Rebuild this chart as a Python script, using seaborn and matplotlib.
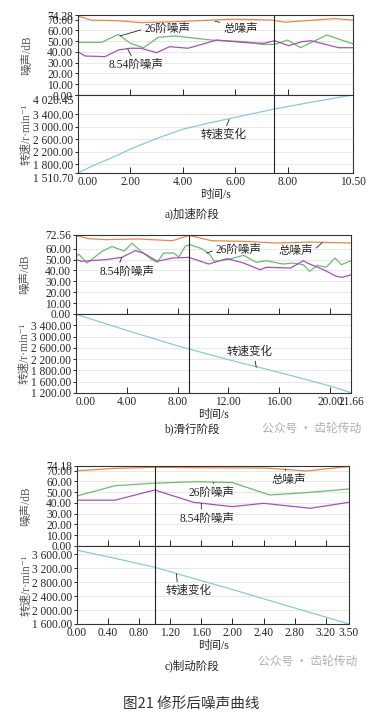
import numpy as np
import pandas as pd
import matplotlib
matplotlib.use('Agg')
import matplotlib.pyplot as plt
import seaborn as sns
from matplotlib.ticker import FixedLocator, FixedFormatter

# ---------------- data ----------------
# a) 加速阶段
total_a_t = [0, 0.5, 1.5, 2.4, 3.7, 5.1, 5.9, 7.4, 7.9, 9.0, 9.8, 10.5]
total_a_v = [73.3, 69.5, 69.0, 67.2, 68.0, 69.6, 70.4, 69.6, 67.6, 69.5, 71.0, 69.5]
g26_a_t = [0, 0.9, 1.54, 2.0, 2.5, 3.07, 3.7, 5.1, 6.4, 7.0, 7.5, 8.0, 8.5, 9.5, 10.5]
g26_a_v = [48.9, 48.9, 56.3, 48.0, 43.9, 53.6, 54.8, 51.0, 49.5, 47.0, 47.0, 51.0, 43.9, 55.7, 47.4]
o854_a_t = [0, 0.27, 1.03, 1.54, 2.0, 2.4, 3.0, 3.5, 4.2, 5.3, 6.4, 7.1, 7.5, 8.05, 8.55, 8.9, 9.95, 10.5]
o854_a_v = [40.2, 36.2, 35.6, 41.8, 43.4, 43.4, 39.3, 44.9, 43.4, 51.0, 48.6, 48.0, 50.4, 45.8, 49.5, 50.4, 43.9, 43.9]
speed_a_t = [0, 0.5, 1, 1.5, 2, 3, 4, 5, 6, 7, 7.5, 8, 9, 10, 10.5]
speed_a_v = [1511, 1720, 1900, 2080, 2280, 2620, 2920, 3120, 3300, 3480, 3570, 3650, 3800, 3950, 4020]

# b) 滑行阶段
total_b_t = [0, 1.0, 2.3, 4.9, 7.6, 8.9, 10.7, 13.2, 15.8, 18.4, 21.66]
total_b_v = [72.0, 69.2, 68.3, 68.9, 67.3, 72.2, 67.3, 66.7, 65.2, 66.1, 65.2]
g26_b_t = [0, 0.2, 0.87, 2.05, 2.83, 3.8, 4.4, 5.06, 5.98, 6.4, 6.9, 7.7, 8.1, 8.6, 9.0, 9.9,
           10.55, 10.9, 11.9, 13.2, 14.2, 15.0, 16.3, 17.1, 17.9, 18.4, 19.0, 19.7, 20.4, 20.9, 21.66]
g26_b_v = [52, 55.1, 46.8, 57.5, 62.0, 57.8, 65.0, 58.2, 49.9, 47.5, 56, 56, 52.3, 62.2, 63.6, 60,
           54.5, 48.4, 49.9, 53.9, 47.5, 48.9, 45.9, 46.8, 45.3, 39.2, 44.7, 42.9, 51.4, 45.3, 48.9]
o854_b_t = [0, 0.47, 2.3, 3.6, 4.67, 5.3, 6.4, 7.6, 8.9, 10.45, 11.9, 13.2, 14.5, 15.0, 16.9,
            17.9, 18.4, 19.5, 20.5, 21.0, 21.66]
o854_b_v = [49.9, 48.4, 49.9, 52, 58.2, 56, 48.4, 51.4, 52, 45.9, 50.8, 46.8, 40.7, 42.9, 42.2,
            48.9, 45.9, 40.7, 34.6, 33.7, 36]
speed_b_t = [0, 4, 8, 12, 16, 20, 21.66]
speed_b_v = [3990, 3420, 2870, 2380, 1930, 1450, 1210]

# c) 制动阶段
total_c_t = [0, 0.5, 1.0, 1.75, 2.4, 2.65, 2.95, 3.5]
total_c_v = [69.8, 72.0, 73.0, 72.5, 72.3, 71.2, 69.5, 73.8]
g26_c_t = [0, 0.49, 0.99, 1.52, 2.0, 2.48, 2.95, 3.5]
g26_c_v = [46.4, 55.9, 58.2, 59.6, 58.8, 47.3, 49.5, 52.9]
o854_c_t = [0, 0.49, 1.0, 1.5, 2.0, 2.4, 3.0, 3.5]
o854_c_v = [42.5, 42.5, 51.9, 40.5, 36.5, 39.6, 35.0, 40.5]
speed_c_t = [0, 0.5, 1.0, 1.5, 2.0, 2.5, 3.0, 3.5]
speed_c_v = [3720, 3480, 3230, 2910, 2590, 2260, 1930, 1600]

# tick labels
xt_a = [0, 2, 4, 6, 8, 10.5]
xt_b = [0, 4, 8, 12, 16, 20, 21.66]
xt_c = [0, 0.4, 0.8, 1.2, 1.6, 2.0, 2.4, 2.8, 3.2, 3.5]
ny_a = [0, 10, 20, 30, 40, 50, 60, 70, 74.28]
ny_b = [0, 10, 20, 30, 40, 50, 60, 72.56]
ny_c = [0, 10, 20, 30, 40, 50, 60, 70, 74.18]
sy_a = [1510.70, 1800, 2200, 2600, 3000, 3400, 4020.45]
sy_a_lab = ['1 510.70', '1 800.00', '2 200.00', '2 600.00', '3 000.00', '3 400.00', '4 020.45']
sy_b = [1200, 1600, 2000, 2400, 2800, 3200, 3600]
sy_b_lab = ['1 200.00', '1 600.00', '1 800.00', '2 200.00', '2 600.00', '3 000.00', '3 400.00']
sy_c = [1600, 2000, 2400, 2800, 3200, 3600]
sy_c_lab = ['1 600.00', '2 000.00', '2 400.00', '2 800.00', '3 200.00', '3 600.00']

# ---------------- style ----------------
sns.set_style("ticks")
FAM = ['Liberation Serif', 'Noto Sans CJK SC', 'DejaVu Sans']
plt.rcParams['font.family'] = FAM
plt.rcParams['axes.linewidth'] = 0.8
plt.rcParams['axes.edgecolor'] = '#333333'

C_TOT = '#E8874A'
C_26 = '#6CBD6C'
C_854 = '#A94FB8'
C_SPD = '#86CCD8'
FS = 8.3

W, H = 379, 720
fig = plt.figure(figsize=(W / 100, H / 100), dpi=100)


def rect(l, r, top, bot):
    return [l / W, 1 - bot / H, (r - l) / W, (bot - top) / H]


def style_ax(ax, xlim, xt, yt, ylab, ylim):
    ax.set_xlim(*xlim)
    ax.set_ylim(*ylim)
    ax.xaxis.set_major_locator(FixedLocator(xt))
    ax.yaxis.set_major_locator(FixedLocator(yt))
    ax.yaxis.set_major_formatter(FixedFormatter(ylab))
    ax.tick_params(axis='x', direction='in', length=4, width=0.7, labelsize=FS, pad=2)
    ax.tick_params(axis='y', direction='out', length=2.5, width=0.7, labelsize=FS, pad=1)
    ax.grid(axis='y', color='#e4e4e4', lw=0.6)
    ax.set_axisbelow(True)
    for s in ax.spines.values():
        s.set_visible(True)
    ax.set_xlabel('')


def panel(l, r, top, mid, bot, xlim, xt, lines, spd_t, spd_v, ny, sy, sy_lab, sylim,
          vline, notes, caption, cap_y, first_left, shift_ends):
    axn = fig.add_axes(rect(l, r, top, mid))
    axs = fig.add_axes(rect(l, r, mid, bot))
    for tt, vv, c in lines:
        df = pd.DataFrame({'t': tt, 'v': vv})
        sns.lineplot(data=df, x='t', y='v', ax=axn, color=c, lw=0.9, estimator=None)
    dfs = pd.DataFrame({'t': spd_t, 'v': spd_v})
    sns.lineplot(data=dfs, x='t', y='v', ax=axs, color=C_SPD, lw=0.9, estimator=None)

    style_ax(axn, xlim, xt, ny, ['%.2f' % v for v in ny], (0, ny[-1]))
    style_ax(axs, xlim, xt, sy, sy_lab, sylim)
    axn.tick_params(axis='x', labelbottom=False)
    axs.xaxis.set_major_formatter(FixedFormatter(['%.2f' % v for v in xt]))
    if first_left:
        axs.get_xticklabels()[0].set_ha('left')
    if shift_ends:
        axs.get_yticklabels()[0].set_va('top')
        axs.get_yticklabels()[-1].set_va('top')
    axn.set_ylabel('噪声/dB', fontsize=FS, color='#555555')
    axs.set_ylabel('转速/r·min⁻¹', fontsize=FS, color='#555555')
    axs.set_xlabel('时间/s', fontsize=FS, labelpad=1)
    axn.yaxis.set_label_coords(-0.165, 0.5)
    axs.yaxis.set_label_coords(-0.165, 0.5)
    for ax in (axn, axs):
        ax.axvline(vline, color='#222222', lw=0.8)

    for which, txt, xytext, xy, rp in notes:
        ax = axn if which == 'n' else axs
        ax.annotate(txt, xy=xy, xytext=xytext, ha='center', va='center', fontsize=FS,
                    arrowprops=dict(arrowstyle='-', color='#222222', lw=0.6,
                                    shrinkA=0, shrinkB=0, relpos=rp))
    fig.text(0.506, 1 - cap_y / H, caption, ha='center', va='center', fontsize=FS)


panel(78, 353, 15, 95, 173, (0, 10.5), xt_a,
      [(total_a_t, total_a_v, C_TOT), (g26_a_t, g26_a_v, C_26), (o854_a_t, o854_a_v, C_854)],
      speed_a_t, speed_a_v, ny_a, sy_a, sy_a_lab, (1510.70, 4020.45), 7.48,
      [('n', '26阶噪声', (3.4, 61.3), (1.6, 54.8), (0, 0.5)),
       ('n', '总噪声', (6.2, 61.3), (5.23, 68.5), (0, 1)),
       ('n', '8.54阶噪声', (2.2, 27.9), (1.9, 42.7), (0.45, 1)),
       ('s', '转速变化', (5.54, 2737), (5.77, 3230), (0.55, 1))],
      'a)加速阶段', 214, True, True)

panel(76, 351, 235, 314, 393, (0, 21.66), xt_b,
      [(total_b_t, total_b_v, C_TOT), (g26_b_t, g26_b_v, C_26), (o854_b_t, o854_b_v, C_854)],
      speed_b_t, speed_b_v, ny_b, sy_b, sy_b_lab, (1200, 4000), 8.9,
      [('n', '26阶噪声', (12.8, 58.8), (10.3, 56.0), (0, 0.5)),
       ('n', '总噪声', (17.3, 57.9), (19.4, 65.6), (1, 0.5)),
       ('n', '8.54阶噪声', (4.0, 38.8), (3.6, 52.0), (0.35, 1)),
       ('s', '转速变化', (13.7, 2662), (14.2, 2110), (0.6, 0))],
      'b)滑行阶段', 430, True, False)

panel(77, 349, 466, 546, 624, (0, 3.5), xt_c,
      [(total_c_t, total_c_v, C_TOT), (g26_c_t, g26_c_v, C_26), (o854_c_t, o854_c_v, C_854)],
      speed_c_t, speed_c_v, ny_c, sy_c, sy_c_lab, (1600, 3840), 1.0,
      [('n', '总噪声', (2.73, 61.2), (2.68, 71.2), (0.4, 1)),
       ('n', '26阶噪声', (1.73, 49.4), (1.76, 59.0), (0.5, 1)),
       ('n', '8.54阶噪声', (1.67, 25.7), (1.6, 39.6), (0.4, 1)),
       ('s', '转速变化', (1.44, 2550), (1.28, 3040), (0.25, 1))],
      'c)制动阶段', 666, False, False)

# watermarks
fig.text(312 / W, 1 - 428 / H, '公众号 · 齿轮传动', ha='center', va='center',
         fontsize=8.5, color='#b0b0b0', family=['Noto Sans CJK SC', 'DejaVu Sans'])
fig.text(308 / W, 1 - 661 / H, '公众号 · 齿轮传动', ha='center', va='center',
         fontsize=8.5, color='#b0b0b0', family=['Noto Sans CJK SC', 'DejaVu Sans'])

fig.text(191 / W, 1 - 704 / H, '图21 修形后噪声曲线', ha='center', va='center',
         fontsize=10.5, color='#333333', family=['Noto Sans CJK SC', 'DejaVu Sans'])

fig.savefig('out.png', dpi=100, facecolor='white')
